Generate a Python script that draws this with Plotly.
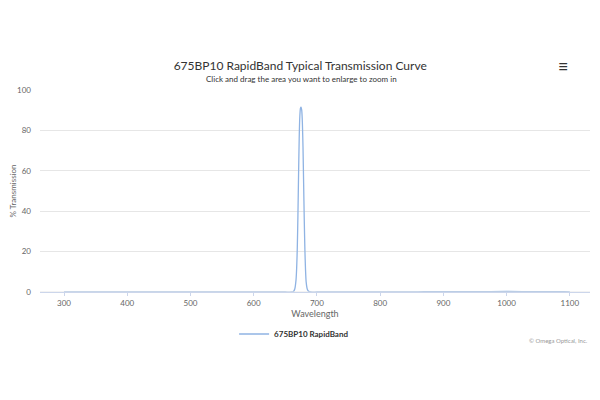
import plotly.graph_objects as go

# transmission curve
wavelength = [300, 400, 500, 600, 650, 660, 663, 665, 667, 668, 669, 670, 671, 672,
              673, 674, 675, 676, 677, 678, 679, 680, 681, 682, 683, 685, 687, 690,
              700, 750, 800, 850, 870, 900, 950, 1000, 1050, 1090, 1100]
transmission = [0, 0, 0, 0, 0, 0, 0.3, 1.5, 6, 12, 22, 38, 58, 76,
                87, 91, 91.5, 90, 84, 72, 54, 36, 21, 11, 5, 1.2, 0.3, 0,
                0, 0, 0, 0.05, 0.15, 0.2, 0.2, 0.25, 0.2, 0.15, 0]

x_ticks = [300, 400, 500, 600, 700, 800, 900, 1000, 1100]
y_ticks = [0, 20, 40, 60, 80, 100]

font = "Lato, 'Open Sans', sans-serif"

fig = go.Figure()

fig.add_trace(go.Scatter(
    x=wavelength,
    y=transmission,
    mode='lines',
    name='<b>675BP10 RapidBand</b>',
    line=dict(color='#8fb3e3', width=1.3, shape='spline', smoothing=0.6),
))

# page has an 8px body margin, so margins are shifted to compensate
fig.update_layout(
    width=600,
    height=400,
    margin=dict(l=32, r=18, t=82, b=116),
    paper_bgcolor='white',
    plot_bgcolor='white',
    font=dict(family=font, color='#666666', size=8),
    title=dict(
        text='675BP10 RapidBand Typical Transmission Curve',
        x=0.487, xanchor='center', y=0.855, yanchor='middle',
        font=dict(size=12, color='#333333', family=font),
    ),
    xaxis=dict(
        range=[262, 1132],
        tickvals=x_ticks,
        showgrid=False,
        zeroline=False,
        showline=True,
        linecolor='#ccd6eb',
        ticks='outside',
        tickcolor='#ccd6eb',
        ticklen=3,
        automargin=False,
        tickfont=dict(size=8, color='#666666'),
        title=dict(text='Wavelength', font=dict(size=9, color='#666666'), standoff=2),
    ),
    yaxis=dict(
        range=[0, 100],
        tickvals=y_ticks,
        showgrid=True,
        gridcolor='#e6e6e6',
        zeroline=False,
        showline=False,
        ticks='',
        ticklabelstandoff=8,
        automargin=False,
        tickfont=dict(size=8, color='#666666'),
        title=dict(text='% Transmission', font=dict(size=8, color='#666666'), standoff=4),
    ),
    showlegend=True,
    legend=dict(
        orientation='h',
        x=0.462, xanchor='center',
        y=-0.208, yanchor='middle',
        font=dict(size=8, color='#333333'),
    ),
    annotations=[
        dict(text='Click and drag the area you want to enlarge to zoom in',
             xref='paper', yref='paper', x=0.475, y=1.054, xanchor='center', yanchor='middle',
             showarrow=False, font=dict(size=8, color='#333333')),
        dict(text='© Omega Optical, Inc.',
             xref='paper', yref='paper', x=1.0, y=-0.238, xanchor='right', yanchor='middle',
             showarrow=False, font=dict(size=6, color='#999999')),
        dict(text='≡',
             xref='paper', yref='paper', x=0.951, y=1.119, xanchor='center', yanchor='middle',
             showarrow=False, font=dict(size=18, color='#333333')),
    ],
)

fig.add_shape(type='line', xref='paper', yref='y', x0=0, x1=1, y0=0, y1=0,
              line=dict(color='#e6e6e6', width=1))

fig.write_html("out.html", config={'displayModeBar': False})
